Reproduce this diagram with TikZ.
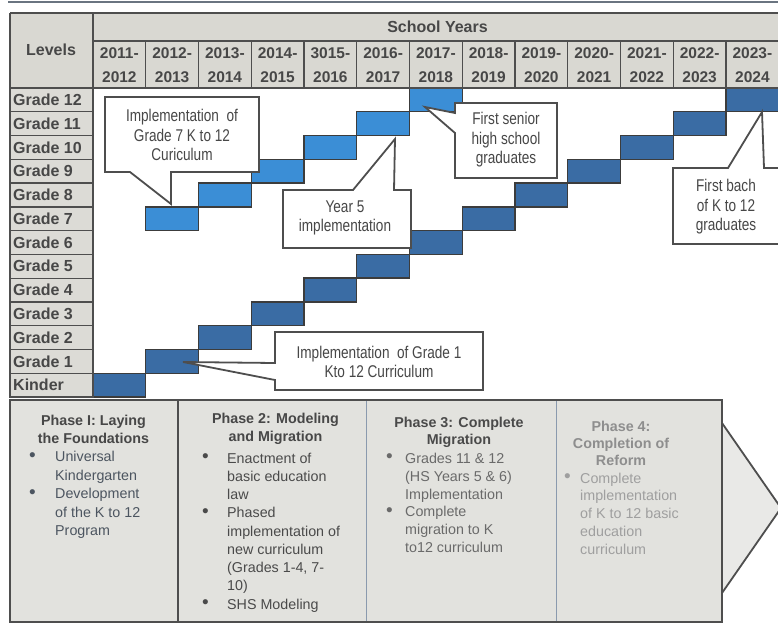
\documentclass[tikz,border=0pt]{standalone}
\usepackage{fontspec}
\setmainfont{Liberation Sans}
\newfontfamily\callfont[FakeStretch=0.8]{Liberation Sans}
\newcommand\bul{\raisebox{0.5pt}{\fontsize{19}{10}\selectfont\textbullet}}
\definecolor{hdrbg}{HTML}{D9D8D2}
\definecolor{cellbg}{HTML}{DCDBD6}
\definecolor{gridln}{HTML}{4E4E4E}
\definecolor{barDk}{HTML}{3A6CA4}
\definecolor{barLt}{HTML}{3B8ED6}
\definecolor{barEdge}{HTML}{3C3C3C}
\definecolor{txtDk}{HTML}{474747}
\definecolor{phbg}{HTML}{E2E2DE}
\definecolor{phtri}{HTML}{E9E9E7}
\definecolor{pOne}{HTML}{4C5560}
\definecolor{pTwo}{HTML}{4A4A4A}
\definecolor{pThreeH}{HTML}{4A4A4A}
\definecolor{pThree}{HTML}{6A6A6A}
\definecolor{pFour}{HTML}{8E8E8E}
\definecolor{sepBlue}{HTML}{8A9AAE}
\definecolor{scanln}{HTML}{6A7480}
\begin{document}
\begin{tikzpicture}[x=1pt,y=-1pt,
  gridline/.style={draw=gridln, line width=1.8pt},
  thinline/.style={draw=gridln, line width=1.3pt},
  barD/.style={fill=barDk, draw=barEdge, line width=1.4pt},
  barL/.style={fill=barLt, draw=barEdge, line width=1.4pt},
  callout/.style={fill=white, draw=gridln, line width=1.8pt, line join=miter},
  calltext/.style={align=center, text=txtDk, font=\callfont\fontsize{17}{19.5}\selectfont, inner sep=0pt},
  glabel/.style={anchor=west, text=txtDk, font=\fontsize{16}{19}\selectfont\bfseries, inner sep=0pt},
  ylabel/.style={align=center, text=txtDk, font=\fontsize{15.5}{24}\selectfont\bfseries, inner sep=0pt},
  hlabel/.style={text=txtDk, font=\fontsize{16}{19}\selectfont\bfseries, inner sep=0pt},
  phead/.style={align=center, inner sep=0pt},
  plist/.style={anchor=west, inner sep=0pt}]
\useasboundingbox (0,0) rectangle (778,624);
\fill[white] (0,0) rectangle (778,624);
% scan line at top
\draw[scanln, line width=2pt] (8,1.5) -- (778,1.5);
% header backgrounds
\fill[hdrbg] (10,13) rectangle (778,88);
\fill[cellbg] (10,88) rectangle (93,397);
% bars
\foreach \k in {0,...,12}{
  \pgfmathsetmacro\xa{93+\k*52.75}
  \pgfmathsetmacro\ya{88+(12-\k)*23.77}
  \draw[barD] (\xa,\ya) rectangle ++(52.75,23.77);
}
\foreach \j in {0,...,5}{
  \pgfmathsetmacro\xa{93+(\j+1)*52.75}
  \pgfmathsetmacro\ya{88+(5-\j)*23.77}
  \draw[barL] (\xa,\ya) rectangle ++(52.75,23.77);
}
% grid
\draw[gridline] (10,13) -- (778,13);
\draw[gridline] (93,41) -- (778,41);
\draw[gridline] (10,88) -- (778,88);
\draw[gridline] (10,13) -- (10,398);
\draw[gridline] (93,13) -- (93,398);
\foreach \k in {1,...,12}{
  \pgfmathsetmacro\xa{93+\k*52.75}
  \draw[thinline] (\xa,41) -- (\xa,88);
}
\foreach \i in {1,...,13}{
  \pgfmathsetmacro\ya{88+\i*23.77}
  \draw[thinline] (10,\ya) -- (93,\ya);
}
% header texts
\node[hlabel] (levels) at (51,50) {Levels};
\node[hlabel] (schoolyears) at (437.5,27) {School Years};
\foreach \a/\b [count=\k from 0] in {2011/2012,2012/2013,2013/2014,2014/2015,3015/2016,2016/2017,2017/2018,2018/2019,2019/2020,2020/2021,2021/2022,2022/2023,2023/2024}{
  \pgfmathsetmacro\xa{93+(\k+0.5)*52.75}
  \node[ylabel] (yr\k) at (\xa,65) {\a-\\\b};
}
% grade labels
\foreach \g/\t in {12/Grade 12,11/Grade 11,10/Grade 10,9/Grade 9,8/Grade 8,7/Grade 7,6/Grade 6,5/Grade 5,4/Grade 4,3/Grade 3,2/Grade 2,1/Grade 1,0/Kinder}{
  \pgfmathsetmacro\ya{88+(12-\g+0.5)*23.77}
  \node[glabel] (gr\g) at (13,\ya) {\t};
}
% callouts
\draw[callout] (105,97) -- (259,97) -- (259,172) -- (171,172) -- (171,204) -- (130,172) -- (105,172) -- cycle;
\node[calltext] (c1) at (182,135) {Implementation\ \ of\\Grade 7 K to 12\\Curiculum};
\draw[callout] (283,190) -- (353,190) -- (395,139) -- (394,190) -- (411,190) -- (411,248) -- (283,248) -- cycle;
\node[calltext] (c2) at (345,218) {Year 5\\implementation};
\draw[callout] (455,103) -- (557,103) -- (557,178) -- (455,178) -- (455,133) -- (425,107) -- (455,113) -- cycle;
\node[calltext] (c3) at (506,140) {First senior\\high school\\graduates};
\draw[callout] (673,168) -- (728,168) -- (762,112) -- (764,168) -- (783,168) -- (783,244) -- (673,244) -- cycle;
\node[calltext] (c4) at (726,207) {First bach\\of K to 12\\graduates};
\draw[callout] (275,332) -- (483,332) -- (483,390) -- (275,390) -- (275,380) -- (183,362) -- (275,363) -- cycle;
\node[calltext] (c5) at (379,362) {Implementation\ \ of Grade 1\\Kto 12 Curriculum};
% phase box
\fill[phbg] (10,400) rectangle (722,622);
\filldraw[fill=phtri, draw=gridln, line width=1.8pt] (722,423) -- (781,508) -- (722,593);
\draw[gridln, line width=1.5pt] (178,400) -- (178,622);
\draw[sepBlue, line width=1pt] (366,400) -- (366,622);
\draw[sepBlue, line width=1pt] (556,400) -- (556,622);
\draw[gridline] (10,400) rectangle (722,622);
% phase texts
\node[phead, text=txtDk, font=\fontsize{14.3}{18}\selectfont\bfseries] (p1h) at (93.5,429) {Phase I: Laying\\the Foundations};
\node[plist, text=pOne, font=\fontsize{14.3}{18.5}\selectfont] (p1l) at (29,494.8) {\begin{tabular}{@{}p{26pt}@{}l@{}}\bul & Universal\\ & Kindergarten\\ \bul & Development\\ & of the K to 12\\ & Program\end{tabular}};
\node[phead, text=txtDk, font=\fontsize{14.3}{18}\selectfont\bfseries] (p2h) at (275.5,429) {Phase 2: Modeling\\and Migration};
\node[plist, text=pTwo, font=\fontsize{14.3}{18.25}\selectfont] (p2l) at (202,532.4) {\begin{tabular}{@{}p{25pt}@{}l@{}}\bul & Enactment of\\ & basic\ education\\ & law\\ \bul & Phased\\ & implementation of\\ & new curriculum\\ & (Grades 1-4, 7-\\ & 10)\\ \bul & SHS Modeling\end{tabular}};
\node[phead, text=pThreeH, font=\fontsize{14.3}{17}\selectfont\bfseries] (p3h) at (459,432.5) {Phase 3: Complete\\Migration};
\node[plist, text=pThree, font=\fontsize{14.3}{17.8}\selectfont] (p3l) at (386,504.4) {\begin{tabular}{@{}p{19pt}@{}l@{}}\bul & Grades 11 \& 12\\ & (HS Years 5 \& 6)\\ & Implementation\\ \bul & Complete\\ & migration to K\\ & to12 curriculum\end{tabular}};
\node[phead, text=pFour, font=\fontsize{14.3}{17}\selectfont\bfseries] (p4h) at (621,443.7) {Phase 4:\\Completion of\\Reform};
\node[plist, text=pFour!85!white, font=\fontsize{14.3}{17.75}\selectfont] (p4l) at (564,515) {\begin{tabular}{@{}p{16pt}@{}l@{}}\bul & Complete\\ & implementation\\ & of K to 12 basic\\ & education\\ & curriculum\end{tabular}};
\end{tikzpicture}
\end{document}
